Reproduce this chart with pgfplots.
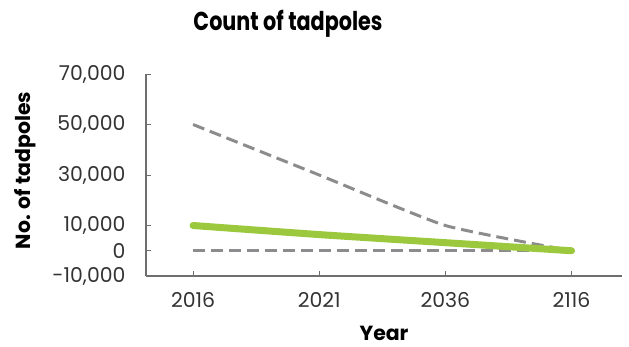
\documentclass[border=0pt]{standalone}
\usepackage{pgfplots}
\pgfplotsset{compat=1.18}
\usepackage{fontspec}
\setmainfont{Poppins}[Numbers=Monospaced]
\definecolor{lgreen}{HTML}{9BC83C}
\definecolor{dgray}{HTML}{8C8C8E}
\definecolor{axgray}{HTML}{6E6E6E}
\begin{document}
\begin{tikzpicture}
\path[use as bounding box] (0,0) rectangle (629bp,347bp);
\begin{axis}[
  at={(146bp,71bp)}, anchor=south west,
  scale only axis, width=476bp, height=202bp,
  xmin=-0.373, xmax=3.40,
  ymin=-10000, ymax=70000,
  axis x line=bottom, axis y line=left,
  axis line style={-, axgray, line width=1.2bp},
  xtick={0,1,2,3}, xticklabels={2016,2021,2036,2116},
  ytick={-10000,0,10000,30000,50000,70000},
  yticklabels={{-10,000},{0},{10,000},{30,000},{50,000},{70,000}},
  scaled y ticks=false,
  major tick length=5bp,
  tick style={axgray, line width=1bp},
  tick align=inside,
  tick label style={font=\fontsize{20.5}{22}\selectfont, text=black!80},
  yticklabel style={xshift=-17bp},
  xticklabel style={yshift=-13bp},
  xlabel={\textbf{Year}},
  ylabel={\textbf{No. of tadpoles}},
  label style={font=\fontsize{20.5}{22}\selectfont},
  xlabel style={at={(axis description cs:0.5,-0.282)}, anchor=center},
  ylabel style={at={(axis description cs:-0.254,0.522)}, anchor=center, rotate=0},
  clip=false,
]
\addplot[dgray, line width=3bp, dash pattern=on 12bp off 6bp, smooth, tension=0.3] coordinates {(0,50000) (1,30000) (2,10000) (3,0)};
\addplot[dgray, line width=3bp, dash pattern=on 12bp off 6bp] coordinates {(0,0) (1,0) (2,0) (3,0)};
\addplot[lgreen, line width=7bp, line cap=round, smooth, tension=0.3] coordinates {(0,10000) (1,6400) (2,3200) (3,0)};
\end{axis}
\node[font=\fontsize{26}{30}\selectfont\bfseries, xscale=0.8] at (288bp,323bp) {Count of tadpoles};
\end{tikzpicture}
\end{document}
